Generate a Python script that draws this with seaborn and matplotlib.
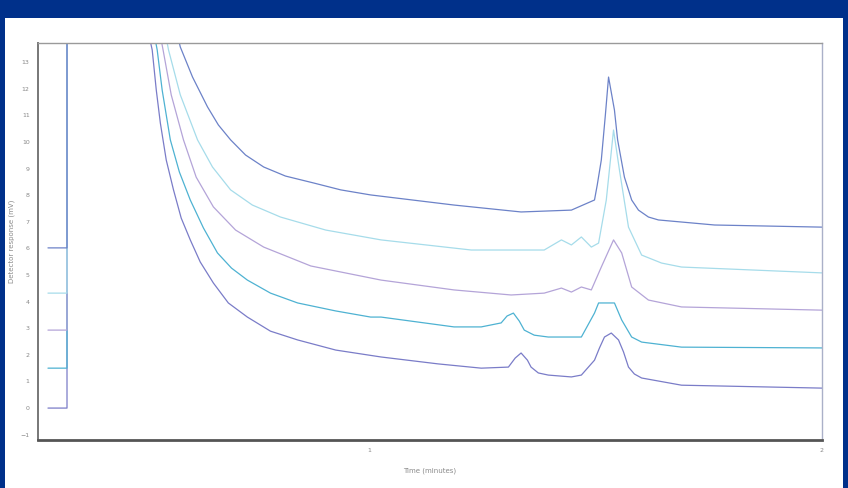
import numpy as np
import pandas as pd
import matplotlib
matplotlib.use("Agg")
import matplotlib.pyplot as plt
import seaborn as sns

# ---- data (time in minutes, signal in mV) ----
start_time = [0.292, 0.334, 0.334, 0.50]

t1 = [0.515, 0.522, 0.531, 0.540, 0.553, 0.569, 0.586, 0.606, 0.628, 0.657, 0.690, 0.732, 0.783,
      0.843, 0.927, 1.027, 1.153, 1.248, 1.308, 1.323, 1.336, 1.350, 1.358,
      1.374, 1.396, 1.447, 1.469, 1.498, 1.509, 1.520, 1.535, 1.551, 1.562, 1.573, 1.586,
      1.602, 1.690, 2.0]
s1 = [14.0, 13.46, 11.95, 10.71, 9.32, 8.20, 7.14, 6.32, 5.49, 4.70, 3.95, 3.42, 2.89,
      2.56, 2.18, 1.92, 1.66, 1.50, 1.54, 1.88, 2.07, 1.80, 1.54,
      1.32, 1.24, 1.17, 1.24, 1.80, 2.26, 2.67, 2.82, 2.56, 2.11, 1.54, 1.28,
      1.13, 0.86, 0.75]

t2 = [0.527, 0.533, 0.544, 0.562, 0.582, 0.606, 0.635, 0.666, 0.697, 0.732, 0.783, 0.843, 0.927,
      1.004, 1.027, 1.188, 1.248, 1.292, 1.305, 1.319, 1.332, 1.343,
      1.365, 1.396, 1.469, 1.498, 1.507, 1.542, 1.558, 1.580, 1.602, 1.690, 2.0]
s2 = [14.0, 13.46, 11.95, 10.08, 8.87, 7.82, 6.77, 5.83, 5.26, 4.81, 4.32, 3.95, 3.65,
      3.42, 3.42, 3.05, 3.05, 3.20, 3.46, 3.57, 3.27, 2.93,
      2.74, 2.67, 2.67, 3.57, 3.95, 3.95, 3.31, 2.67, 2.48, 2.29, 2.26]

t3 = [0.540, 0.546, 0.564, 0.591, 0.619, 0.657, 0.706, 0.768, 0.872, 1.027, 1.188, 1.314, 1.387,
      1.425, 1.447, 1.469, 1.491, 1.513, 1.540, 1.558, 1.580, 1.617, 1.690, 2.0]
s3 = [14.0, 13.46, 11.77, 10.08, 8.68, 7.56, 6.69, 6.05, 5.34, 4.81, 4.44, 4.25, 4.32,
      4.51, 4.36, 4.55, 4.44, 5.30, 6.32, 5.83, 4.55, 4.06, 3.80, 3.68]

t4 = [0.552, 0.558, 0.584, 0.622, 0.655, 0.695, 0.743, 0.805, 0.905, 1.027, 1.226, 1.387,
      1.425, 1.447, 1.469, 1.491, 1.507, 1.524, 1.540, 1.553, 1.573, 1.602, 1.646, 1.690, 2.0]
s4 = [14.0, 13.46, 11.77, 10.08, 9.06, 8.20, 7.63, 7.18, 6.69, 6.32, 5.94, 5.94,
      6.32, 6.13, 6.43, 6.05, 6.20, 7.82, 10.45, 8.95, 6.80, 5.75, 5.45, 5.30, 5.08]

t5 = [0.578, 0.584, 0.611, 0.644, 0.668, 0.695, 0.728, 0.768, 0.816, 0.878, 0.938, 1.004, 1.188,
      1.336, 1.447, 1.498, 1.504, 1.513, 1.522, 1.529, 1.542, 1.549, 1.564, 1.580, 1.595,
      1.617, 1.639, 1.763, 2.0]
s5 = [14.0, 13.57, 12.44, 11.32, 10.64, 10.08, 9.51, 9.06, 8.72, 8.46, 8.20, 8.01, 7.63,
      7.37, 7.44, 7.82, 8.38, 9.32, 11.02, 12.44, 11.20, 10.08, 8.68, 7.82, 7.44,
      7.18, 7.07, 6.88, 6.80]

baselines = [0.0, 1.5, 2.93, 4.32, 6.02]
spike_top = 16.0
series_names = ["Run 1", "Run 2", "Run 3", "Run 4", "Run 5"]
colors = ["#7a7cc8", "#4eb2d2", "#b4a4d8", "#a6dcea", "#6c82c8"]

x_ticks = [1, 2]
y_ticks = list(range(-1, 14))

# ---- build long table ----
rows = []
for name, base, t, s in zip(series_names, baselines, [t1, t2, t3, t4, t5], [s1, s2, s3, s4, s5]):
    pre_s = [base, base, spike_top, spike_top]
    for x, y in zip(start_time + t, pre_s + s):
        rows.append({"time": x, "signal": y, "run": name})
df = pd.DataFrame(rows)

sns.set_theme(style="white")
fig = plt.figure(figsize=(8.48, 4.88), dpi=100)
fig.patch.set_facecolor("#00308a")
# white page inside blue frame (behind everything)
page = matplotlib.patches.Rectangle((5/848, 0), (843-5)/848, 1-18/488,
                                    transform=fig.transFigure, facecolor="white",
                                    edgecolor="none", zorder=-10)
fig.patches.append(page)
ax = fig.add_axes([38/848, 1-440/488, (822-38)/848, (440-43)/488])
ax.set_zorder(5)
ax.set_facecolor("white")

sns.lineplot(data=df, x="time", y="signal", hue="run", palette=colors, sort=False,
             estimator=None, units="run", legend=False, lw=0.9, ax=ax)

ax.set_xlim(0.27, 2.0)
ax.set_ylim(-1.2, 13.72)
ax.set_xticks(x_ticks)
ax.set_yticks(y_ticks)
ax.tick_params(axis="both", labelsize=4.5, colors="#888888", length=2, width=0.6,
               direction="in", pad=6)
ax.set_xlabel("Time (minutes)", fontsize=5, color="#8a8a8a", labelpad=10)
ax.set_ylabel("Detector response (mV)", fontsize=5, color="#8a8a8a", labelpad=4)

for side, c, w in [("bottom", "#555555", 2.0), ("left", "#777777", 1.4),
                   ("top", "#9a9a9a", 1.0), ("right", "#aab0c8", 1.0)]:
    ax.spines[side].set_visible(True)
    ax.spines[side].set_color(c)
    ax.spines[side].set_linewidth(w)

fig.savefig("out.png", dpi=100, facecolor=fig.get_facecolor())
